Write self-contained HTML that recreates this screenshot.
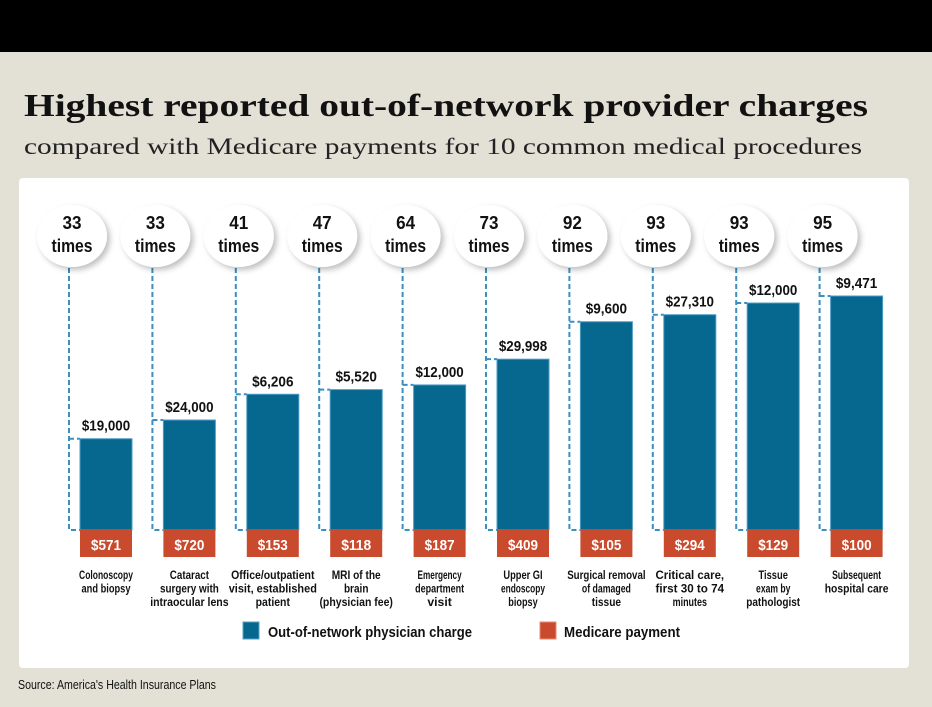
<!DOCTYPE html>
<html><head><meta charset="utf-8"><style>
html,body{margin:0;padding:0;background:#e3e1d6;}
svg{display:block;}
text{font-family:"Liberation Sans",sans-serif;}
</style></head><body>
<svg id="c" width="932" height="707" viewBox="0 0 932 707" xmlns="http://www.w3.org/2000/svg">
<defs>
<filter id="sh" x="-30%" y="-30%" width="160%" height="160%"><feDropShadow dx="3" dy="3" stdDeviation="3" flood-color="#000" flood-opacity="0.25"/></filter>
</defs>
<rect x="0" y="0" width="932" height="707" fill="#e3e1d6"/>
<rect x="0" y="0" width="932" height="52" fill="#000"/>
<text x="24" y="116" font-weight="bold" font-size="32" textLength="844" lengthAdjust="spacingAndGlyphs" fill="#111" style="font-family:'Liberation Serif',serif">Highest reported out-of-network provider charges</text>
<text x="24" y="154" font-size="23" textLength="838" lengthAdjust="spacingAndGlyphs" fill="#222" style="font-family:'Liberation Serif',serif">compared with Medicare payments for 10 common medical procedures</text>
<rect x="19" y="178" width="890" height="490" rx="4" fill="#fff"/>
<g id="bars"></g>
<rect x="243" y="622" width="16" height="17" fill="#06678f" stroke="#5aa0c4" stroke-width="1"/>
<text x="268" y="637" font-size="15" font-weight="bold" textLength="204" lengthAdjust="spacingAndGlyphs" fill="#111">Out-of-network physician charge</text>
<rect x="540" y="622" width="16" height="17" fill="#c94a2c" stroke="#e88a70" stroke-width="1"/>
<text x="564" y="637" font-size="15" font-weight="bold" textLength="116" lengthAdjust="spacingAndGlyphs" fill="#111">Medicare payment</text>
<text x="18" y="689" font-size="13" textLength="198" lengthAdjust="spacingAndGlyphs" fill="#111">Source: America's Health Insurance Plans</text>
</svg>
<script>
const categories = [["Colonoscopy","and biopsy"],["Cataract","surgery with","intraocular lens"],["Office/outpatient","visit, established","patient"],["MRI of the","brain","(physician fee)"],["Emergency","department","visit"],["Upper GI","endoscopy","biopsy"],["Surgical removal","of damaged","tissue"],["Critical care,","first 30 to 74","minutes"],["Tissue","exam by","pathologist"],["Subsequent","hospital care"]];
const timesValues = [33,33,41,47,64,73,92,93,93,95];
const barHeightPct = [39,47,58,60,62,73,89,92,97,100];
const chargeLabels = ["$19,000","$24,000","$6,206","$5,520","$12,000","$29,998","$9,600","$27,310","$12,000","$9,471"];
const medicareLabels = ["$571","$720","$153","$118","$187","$409","$105","$294","$129","$100"];

const NS="http://www.w3.org/2000/svg";
const g=document.getElementById('bars');
const baseY=530, redH=27, barW=52;
const x0=80, step=83.4;
function xPos(i){return x0+i*step;}
function yPos(v){return baseY-v*2.34;}
function mk(tag,attrs,parent){const e=document.createElementNS(NS,tag);for(const k in attrs)e.setAttribute(k,attrs[k]);(parent||g).appendChild(e);return e;}
function txt(x,y,s,size,fill,anchor,len){const t=mk('text',{x:x,y:y,'font-size':size,'font-weight':'bold',fill:fill,'text-anchor':anchor||'middle'});if(len){t.setAttribute('textLength',len);t.setAttribute('lengthAdjust','spacingAndGlyphs');}t.textContent=s;return t;}
categories.forEach((cat,i)=>{
  const x=xPos(i), top=yPos(barHeightPct[i]), lx=x-11, cx=x-8;
  const grp=mk('g',{});
  
  
  const d=mk('path',{d:`M${lx} 268 V${baseY} H${x} M${lx} ${top} H${x}`,stroke:'#3a8fc0','stroke-width':2,'stroke-dasharray':'5,3',fill:'none'},grp);
  
  
  const el=mk('ellipse',{cx:cx,cy:236,rx:35,ry:31,fill:'#fff',filter:'url(#sh)'},grp);
  
  
  const t1=txt(cx,229,String(timesValues[i]),18,'#111','middle',19);
  grp.appendChild(t1);
  
  
  const t2=txt(cx,252,'times',18,'#111','middle',41);
  grp.appendChild(t2);
  
  
  const b=mk('rect',{x:x,y:top,width:barW,height:baseY-top,fill:'#06678f',stroke:'#4d9cc4','stroke-width':1},grp);
  
  
  const cl=txt(x+barW/2,top-8,chargeLabels[i],15,'#111','middle',chargeLabels[i].length*6.9);
  grp.appendChild(cl);
  
  
  const r=mk('rect',{x:x,y:baseY,width:barW,height:redH,fill:'#c94a2c'},grp);
  
  
  const ml=txt(x+barW/2,baseY+20,medicareLabels[i],15,'#fff','middle',medicareLabels[i].length*7.5);
  grp.appendChild(ml);
  
  
  cat.forEach((line,j)=>{
    const c=txt(x+barW/2,579+j*13.5,line,12,'#111','middle',line.length*4.9);
    grp.appendChild(c);
    
    
  });
});
</script>
</body></html>
